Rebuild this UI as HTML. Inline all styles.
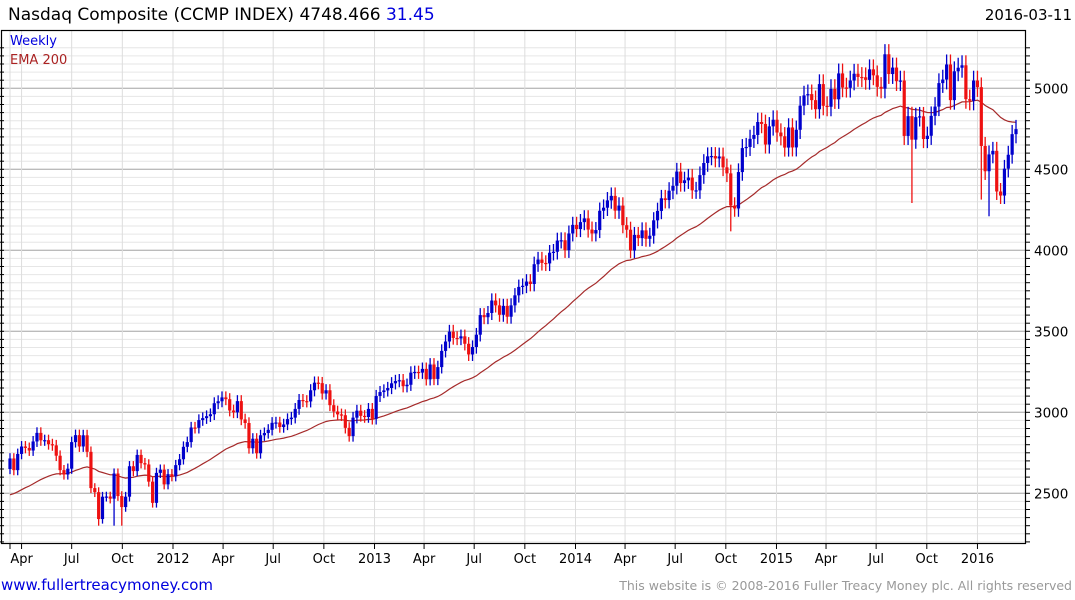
<!DOCTYPE html>
<html><head><meta charset="utf-8"><style>
body{margin:0;background:#fff;}
svg{display:block;font-family:"DejaVu Sans","Liberation Sans",sans-serif;}
</style></head><body>
<svg id="chart" width="1075" height="600" viewBox="0 0 1075 600">
<text x="8" y="20" font-size="17" fill="#000">Nasdaq Composite (CCMP INDEX) 4748.466 <tspan fill="#0000dd">31.45</tspan></text>
<text x="1072" y="20" font-size="15" fill="#000" text-anchor="end">2016-03-11</text>
<g id="grid"></g>
<g id="ema"></g>
<g id="candles"></g>
<rect x="1.5" y="30.5" width="1024" height="513" fill="none" stroke="#000" stroke-width="1.2"/>
<g id="axes"></g>
<text x="10" y="45" font-size="13" fill="#0000dd">Weekly</text>
<text x="10" y="64" font-size="13" fill="#aa2222">EMA 200</text>
<text x="1" y="590" font-size="15" fill="#0000dd">www.fullertreacymoney.com</text>
<text x="1072" y="590" font-size="12.5" fill="#999" text-anchor="end">This website is © 2008-2016 Fuller Treacy Money plc. All rights reserved</text>
</svg>
<script>
const closes = [
2715,2643,2743,
2789,2780,2764,2820,2873,
2827,2828,2803,2796,
2732,2643,2616,2652,
2816,2859,2789,2858,2756,
2532,2507,2341,2479,
2480,2467,2622,2483,2415,
2479,2667,2637,2737,
2686,2678,2572,2441,
2626,2646,2555,2618,2605,
2674,2710,2787,2816,
2906,2904,2952,2964,
2976,2988,3056,3068,3092,
3081,3011,3000,3069,
2956,2934,2778,2837,
2747,2858,2872,2892,2935,
2937,2909,2925,2958,
2967,3021,3076,3069,3067,
3136,3183,3180,3116,
3136,3044,3005,2987,
2982,2904,2853,2967,3010,
2978,2971,3021,2960,
3101,3125,3135,3150,
3179,3193,3198,3161,
3170,3245,3249,3245,3268,
3204,3295,3206,3279,
3379,3437,3498,3459,3456,
3469,3423,3357,3403,
3479,3600,3587,3613,
3690,3660,3602,3657,3590,
3660,3722,3774,3781,
3807,3792,3914,3943,
3922,3919,3985,3991,4060,
4062,4001,4104,4157,
4131,4174,4197,4128,4104,
4125,4244,4263,4308,
4336,4245,4276,4155,
4127,3999,4095,4075,
4123,4071,4090,4185,4243,
4321,4310,4368,4398,
4486,4415,4432,4449,
4370,4370,4464,4539,4580,
4582,4567,4579,4512,
4475,4276,4258,4483,4631,
4638,4688,4712,4792,
4780,4653,4765,4806,
4727,4704,4634,4758,4635,
4744,4893,4956,4964,
4927,4871,5026,4892,
4886,4996,4932,5092,
5005,5003,5048,5090,5070,
5068,5052,5117,5080,
5009,4998,5210,5088,5128,
5044,5048,4706,4828,
4683,4822,4827,4687,
4707,4830,4887,5032,5054,
5147,4927,5105,5127,
5142,4933,4923,5048,5007,
4644,4488,4592,4614,
4363,4338,4504,4590,
4717,4748];
const firstOpen = 2650;
const spikeWeeks = [23,27,29,187,234,252,254];
const spikeLows = [2300,2300,2300,4117,4292,4313,4210];
const yTicks = [2500,3000,3500,4000,4500,5000];
const xLabels = ["Apr","Jul","Oct","2012","Apr","Jul","Oct","2013","Apr","Jul","Oct","2014","Apr","Jul","Oct","2015","Apr","Jul","Oct","2016"];
const xLabelDates = ["2011-04-01","2011-07-01","2011-10-01","2012-01-01","2012-04-01","2012-07-01","2012-10-01","2013-01-01","2013-04-01","2013-07-01","2013-10-01","2014-01-01","2014-04-01","2014-07-01","2014-10-01","2015-01-01","2015-04-01","2015-07-01","2015-10-01","2016-01-01"];
const emaSeed = 2480;

const NS="http://www.w3.org/2000/svg";
const X0=10, STEP=1006/(closes.length-1);
const start=Date.UTC(2011,2,11);
function xw(i){return X0+i*STEP;}
function xd(s){const d=Date.parse(s+"T00:00:00Z");return X0+(d-start)/(7*864e5)*STEP;}
function y(v){return 88.3+(5000-v)*0.162;}
function mk(tag,attrs,parent){const e=document.createElementNS(NS,tag);for(const k in attrs)e.setAttribute(k,attrs[k]);parent.appendChild(e);return e;}
const grid=document.getElementById('grid'),axes=document.getElementById('axes'),cg=document.getElementById('candles'),eg=document.getElementById('ema');
for(let v=2200;v<=5250;v+=50){
  const yy=y(v); if(yy<31||yy>543)continue;
  const major=v%500===0;
  const l=mk('line',{x1:2,x2:1025,y1:yy,y2:yy,stroke:major?'#bbb':'#e6e6e6','stroke-width':major?1.3:1},grid);
  
  
  const t1=mk('line',{x1:1025,x2:1030,y1:yy,y2:yy,stroke:'#000'},axes);
  
  
  const t2=mk('line',{x1:0,x2:4,y1:yy,y2:yy,stroke:'#000'},axes);
  
  
}
yTicks.forEach(v=>{
  const t=mk('text',{x:1034,y:y(v)+5,'font-size':13.5,fill:'#000'},axes);
  t.textContent=v;
  
  
});
const vx=[X0].concat(xLabelDates.map(xd));
vx.forEach(xx=>{
  const l=mk('line',{x1:xx,x2:xx,y1:31,y2:543,stroke:'#ddd'},grid);
  
  
  const t=mk('line',{x1:xx,x2:xx,y1:544,y2:549,stroke:'#000'},axes);
  
  
});
xLabels.forEach((s,i)=>{
  const t=mk('text',{x:xd(xLabelDates[i]),y:563,'font-size':13,'text-anchor':'middle',fill:'#000'},axes);
  t.textContent=s;
  
  
});
let e=emaSeed,pts=[];const a=2/43;
closes.forEach((c,i)=>{e=e+a*(c-e);pts.push(xw(i).toFixed(1)+','+y(e).toFixed(1));});
const pl=mk('polyline',{points:pts.join(' '),fill:'none',stroke:'#a52a2a','stroke-width':1.2},eg);


closes.forEach((c,i)=>{
  const o=i===0?firstOpen:closes[i-1];
  const up=c>=o, col=up?'#0000cc':'#ee1111';
  const hi=Math.max(o,c)*1.012;
  let lo=Math.min(o,c)*0.988;
  const si=spikeWeeks.indexOf(i); if(si>=0)lo=spikeLows[si];
  const g=mk('g',{},cg);
  
  
  const xx=xw(i);
  mk('line',{x1:xx,x2:xx,y1:y(hi),y2:y(lo),stroke:col,'stroke-width':1.3},g);
  const top=y(Math.max(o,c)),bot=y(Math.min(o,c));
  mk('rect',{x:xx-1.6,y:top,width:3.2,height:Math.max(1.2,bot-top),fill:col},g);
});
</script>
</body></html>
